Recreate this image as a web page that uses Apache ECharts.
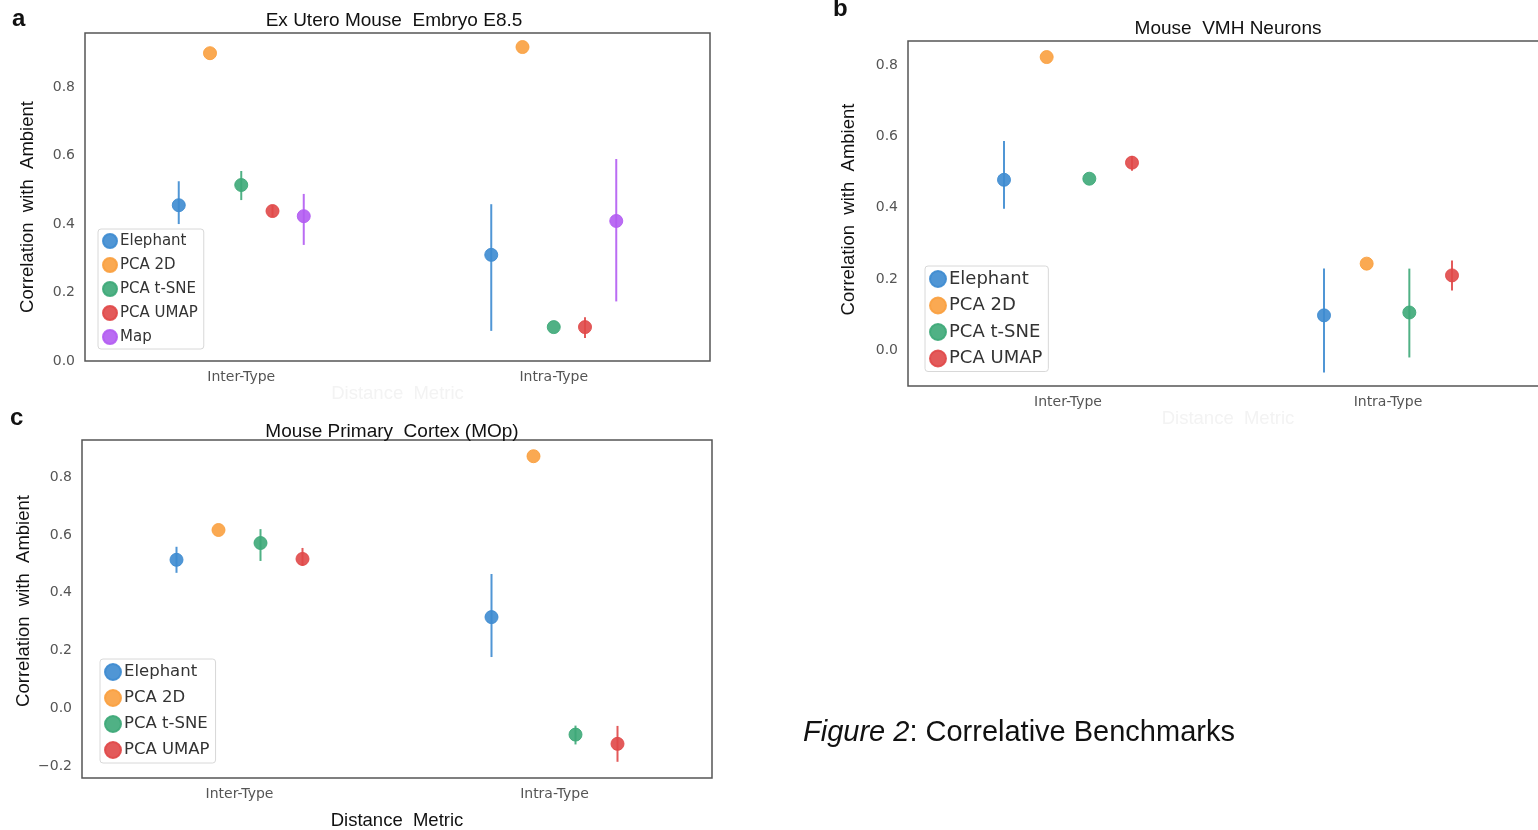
<!DOCTYPE html>
<html>
<head>
<meta charset="utf-8">
<script src="https://cdn.jsdelivr.net/npm/echarts@6/dist/echarts.min.js"></script>
<style>
  html, body { margin: 0; padding: 0; background: #fff; }
  #main { width: 1538px; height: 830px; }
</style>
</head>
<body>
<div id="main"></div>
<script>
// categories and methods
var categories = ['Inter-Type', 'Intra-Type'];
var methods = ['Elephant', 'PCA 2D', 'PCA t-SNE', 'PCA UMAP', 'Map'];
var colors = ['#3d8bd0', '#f9a03f', '#3da878', '#e04848', '#b25cf2'];

// a: Ex Utero Mouse Embryo E8.5  (per method: [inter, intra])
var embryoMean = [[0.455, 0.310], [0.899, 0.917], [0.514, 0.099], [0.438, 0.099], [0.423, 0.409]];
var embryoLow  = [[0.400, 0.088], [null, null], [0.470, null], [0.420, 0.067], [0.339, 0.174]];
var embryoHigh = [[0.525, 0.458], [null, null], [0.555, null], [0.455, 0.128], [0.488, 0.590]];

// b: Mouse VMH Neurons
var vmhMean = [[0.478, 0.098], [0.822, 0.243], [0.481, 0.106], [0.526, 0.210]];
var vmhLow  = [[0.397, -0.062], [null, null], [null, -0.020], [0.503, 0.168]];
var vmhHigh = [[0.587, 0.229], [null, null], [null, 0.229], [0.545, 0.252]];

// c: Mouse Primary Cortex (MOp)
var mopMean = [[0.514, 0.316], [0.617, 0.872], [0.572, -0.090], [0.517, -0.122]];
var mopLow  = [[0.469, 0.178], [null, null], [0.510, -0.124], [0.493, -0.184]];
var mopHigh = [[0.559, 0.465], [null, null], [0.620, -0.059], [0.555, -0.060]];

var chart = echarts.init(document.getElementById('main'));

var tickFont = { color: '#555', fontSize: 14, fontFamily: 'DejaVu Sans' };
var labelFont = 'Liberation Sans';

function yLabel(v) {
  if (Math.abs(v * 5 - Math.round(v * 5)) > 1e-6) return '';
  return v.toFixed(1).replace('-', '\u2212');
}

var grids = [
  { left: 85, top: 33, width: 625, height: 328 },
  { left: 908, top: 41, width: 640, height: 345 },
  { left: 82, top: 440, width: 630, height: 338 }
];
grids.forEach(function (g) {
  g.show = true; g.borderColor = '#555'; g.borderWidth = 1.5; g.backgroundColor = '#fff';
  g.containLabel = false; g.outerBoundsMode = 'none';
});

var xAxes = [];
var yAxes = [];
var yRanges = [[0, 0.958, 0.2], [-0.1, 0.867, 0.1], [-0.24, 0.928, 0.04]];
var yNameGap = [48, 50, 49];
var yNamePad = [[0, 20, 0, 0], [0, 0, 0, 8], [0, 0, 0, 16]];
var xNames = [['Distance  Metric', '#f3f3f3', 20], ['Distance  Metric', '#f3f3f3', 23], ['Distance  Metric', '#111', 33]];

for (var i = 0; i < 3; i++) {
  xAxes.push({
    type: 'value', gridIndex: i, min: -0.5, max: 1.5, interval: 0.5,
    name: xNames[i][0], nameLocation: 'middle', nameGap: xNames[i][2],
    nameTextStyle: { color: xNames[i][1], fontSize: 18.5, fontFamily: labelFont },
    axisLine: { show: false }, axisTick: { show: false }, splitLine: { show: false },
    axisLabel: Object.assign({
      margin: 9, showMinLabel: false, showMaxLabel: false,
      formatter: function (v) {
        var k = Math.round(v);
        return Math.abs(v - k) < 1e-6 && categories[k] ? categories[k] : '';
      }
    }, tickFont)
  });
  yAxes.push({
    type: 'value', gridIndex: i, min: yRanges[i][0], max: yRanges[i][1], interval: yRanges[i][2],
    name: 'Correlation  with  Ambient', nameLocation: 'middle', nameGap: yNameGap[i],
    nameTextStyle: { color: '#111', fontSize: 18.5, fontFamily: labelFont, padding: yNamePad[i] },
    axisLine: { show: false }, axisTick: { show: false }, splitLine: { show: false },
    axisLabel: Object.assign({ margin: 10, formatter: yLabel }, tickFont)
  });
}

var series = [];

function addPanel(idx, mean, low, high) {
  var n = mean.length;
  for (var m = 0; m < n; m++) {
    var off = -0.2 + m * 0.4 / (n - 1);
    var pts = [];
    var bars = [];
    for (var c = 0; c < categories.length; c++) {
      pts.push([c + off, mean[m][c]]);
      if (low[m][c] !== null) bars.push([c + off, low[m][c], high[m][c]]);
    }
    (function (col) {
      series.push({
        type: 'custom', name: methods[m] + ' err', xAxisIndex: idx, yAxisIndex: idx,
        silent: true, z: 2,
        data: bars,
        encode: { x: 0, y: [1, 2] },
        renderItem: function (params, api) {
          var p1 = api.coord([api.value(0), api.value(1)]);
          var p2 = api.coord([api.value(0), api.value(2)]);
          return {
            type: 'line',
            shape: { x1: p1[0], y1: p1[1], x2: p2[0], y2: p2[1] },
            style: { stroke: col, lineWidth: 2, opacity: 0.9 }
          };
        }
      });
    })(colors[m]);
    series.push({
      type: 'scatter', name: methods[m], xAxisIndex: idx, yAxisIndex: idx,
      symbol: 'circle', symbolSize: 13, z: 3,
      itemStyle: { color: colors[m], opacity: 0.9, borderColor: colors[m], borderWidth: 1 },
      data: pts
    });
  }
}

addPanel(0, embryoMean, embryoLow, embryoHigh);
addPanel(1, vmhMean, vmhLow, vmhHigh);
addPanel(2, mopMean, mopLow, mopHigh);

function legendAt(left, top, names, fs, icon, gap) {
  return {
    orient: 'vertical', left: left, top: top, data: names,
    icon: 'circle', itemWidth: icon, itemHeight: icon, itemGap: gap,
    padding: [4, 6, 4, 4],
    backgroundColor: '#fff', borderColor: '#d8d8d8', borderWidth: 1, borderRadius: 3,
    textStyle: { color: '#333', fontSize: fs, fontFamily: 'DejaVu Sans', padding: [0, 0, 0, -2] },
    selectedMode: false
  };
}

var legends = [
  legendAt(98, 229, methods, 15, 14, 8),
  legendAt(925, 266, methods.slice(0, 4), 18, 16, 8.5),
  legendAt(100, 659, methods.slice(0, 4), 16.5, 16, 8)
];

function txt(x, y, s, size, weight, align, extra) {
  var st = { text: s, fill: '#111', font: weight + ' ' + size + 'px "' + labelFont + '"',
             align: align, verticalAlign: 'middle' };
  if (extra) Object.assign(st, extra);
  return { type: 'text', x: x, y: y, z: 10, style: st };
}

var graphics = [
  txt(12, 19, 'a', 24, 'bold', 'left'),
  txt(833, 9, 'b', 24, 'bold', 'left'),
  txt(10, 418, 'c', 24, 'bold', 'left'),
  txt(394, 21, 'Ex Utero Mouse  Embryo E8.5', 19, 'normal', 'center'),
  txt(1228, 29, 'Mouse  VMH Neurons', 19, 'normal', 'center'),
  txt(392, 432, 'Mouse Primary  Cortex (MOp)', 19, 'normal', 'center'),
  txt(803, 733, '{i|Figure 2}: Correlative Benchmarks', 29, 'normal', 'left', {
    rich: { i: { fontStyle: 'italic', fontSize: 29, fontFamily: labelFont, fill: '#111' } }
  })
];

chart.setOption({
  animation: false,
  grid: grids,
  xAxis: xAxes,
  yAxis: yAxes,
  legend: legends,
  series: series,
  graphic: graphics
});
</script>
</body>
</html>
